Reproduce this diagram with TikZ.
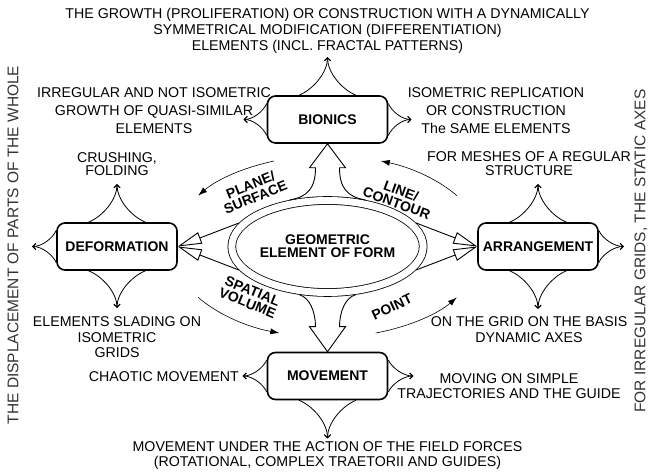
\documentclass[tikz,border=0pt]{standalone}
\usepackage{fontspec}
\setmainfont{Liberation Sans}
\usetikzlibrary{arrows.meta,shapes.geometric,calc}
\newcommand{\sprout}[4]{%
  \begin{scope}[shift={(#1)},rotate=#2]
    \draw[tentacle] (-#3,0) .. controls +(0.5*#3,0.15*#4) and +(0,-0.4*#4) .. (0,#4);
    \draw[tentacle] (#3,0) .. controls +(-0.5*#3,0.15*#4) and +(0,-0.4*#4) .. (0,#4);
  \end{scope}}

\begin{document}
\begin{tikzpicture}[x=1pt,y=1pt,
  box/.style={draw,line width=1.6pt,rounded corners=8pt,minimum width=120pt,minimum height=47pt,inner sep=0pt,font=\bfseries\fontsize{14}{16}\selectfont},
  txt/.style={align=center,inner sep=0pt,font=\fontsize{14.2}{15}\selectfont},
  lbl/.style={align=center,inner sep=0pt,font=\bfseries\fontsize{14}{13}\selectfont},
  side/.style={inner sep=0pt,rotate=90,text=black!80,font=\fontsize{15.5}{16}\selectfont},
  hollow/.style={line width=0.9pt,line join=miter},
  feed/.style={hollow,-{Triangle[open,length=24pt,width=12pt]}},
  turn/.style={line width=0.6pt,-{Latex[length=9pt,width=6pt]}},
  tentacle/.style={line width=0.8pt,-{Straight Barb[length=3pt,width=6pt]}}]
  \useasboundingbox (0,0) rectangle (651,474);

  % the four blocks and the centre
  \node[box] (bio) at (327.5,354.5) {BIONICS};
  \node[box] (def) at (117,227.5) {DEFORMATION};
  \node[box] (arr) at (538,227.5) {ARRANGEMENT};
  \node[box] (mov) at (327.5,98) {MOVEMENT};
  \node[ellipse,draw,double,double distance=7pt,line width=0.8pt,minimum width=191pt,minimum height=92pt,outer sep=4.3pt,lbl] (geo) at (327.5,227.5) {GEOMETRIC\\ELEMENT OF FORM};

  % texts
  \node[txt,font=\fontsize{14.2}{16}\selectfont] (title) at (327.5,443) {THE GROWTH (PROLIFERATION) OR CONSTRUCTION WITH A DYNAMICALLY\\SYMMETRICAL MODIFICATION (DIFFERENTIATION)\\ELEMENTS (INCL. FRACTAL PATTERNS)};
  \node[txt,font=\fontsize{14.2}{18}\selectfont] (irr) at (154,363) {IRREGULAR AND NOT ISOMETRIC\\GROWTH OF QUASI-SIMILAR\\ELEMENTS};
  \node[txt,font=\fontsize{14.2}{18}\selectfont] (iso) at (496,363) {ISOMETRIC REPLICATION\\OR CONSTRUCTION\\The SAME ELEMENTS};
  \node[txt,font=\fontsize{14.2}{13}\selectfont] (crush) at (117,309.5) {CRUSHING,\\FOLDING};
  \node[txt,font=\fontsize{14.2}{14}\selectfont] (mesh) at (529,310) {FOR MESHES OF A REGULAR\\STRUCTURE};
  \node[txt,font=\fontsize{14.2}{15.5}\selectfont] (slide) at (117,136.5) {ELEMENTS SLADING ON\\ISOMETRIC\\GRIDS};
  \node[txt,font=\fontsize{14.2}{16}\selectfont] (grid) at (529,144) {ON THE GRID ON THE BASIS\\DYNAMIC AXES};
  \node[txt,anchor=east] (chaos) at (239,97) {CHAOTIC MOVEMENT};
  \node[txt] (simple) at (509,88) {MOVING ON SIMPLE\\TRAJECTORIES AND THE GUIDE};
  \node[txt] (field) at (327.5,18.5) {MOVEMENT UNDER THE ACTION OF THE FIELD FORCES\\(ROTATIONAL, COMPLEX TRAETORII AND GUIDES)};
  \node[side] (whole) at (13,229) {THE DISPLACEMENT OF PARTS OF THE WHOLE};
  \node[side] (axes) at (641,223) {FOR IRREGULAR GRIDS, THE STATIC AXES};

  % labels round the ellipse
  \node[lbl,rotate=22] (plane) at (253,283) {PLANE/\\SURFACE};
  \node[lbl,rotate=-20] (cont) at (399,277) {LINE/\\CONTOUR};
  \node[lbl,rotate=-22] (spat) at (250,177) {SPATIAL\\VOLUME};
  \node[lbl,rotate=25] (point) at (392,167) {POINT};

  % outgoing arrows of the blocks
  \sprout{bio.north}{0}{28.5}{38}
  \sprout{bio.west}{90}{16}{23}
  \sprout{bio.east}{-90}{16}{23}
  \sprout{def.north}{0}{28.5}{38}
  \sprout{def.south}{180}{28.5}{37}
  \sprout{def.west}{90}{16}{24}
  \sprout{arr.north}{0}{28.5}{38}
  \sprout{arr.south}{180}{28.5}{38}
  \sprout{arr.east}{-90}{16}{25}
  \sprout{mov.west}{90}{16}{24}
  \sprout{mov.east}{-90}{16}{25}
  \sprout{mov.south}{180}{28.5}{38}

  % hollow arrows from the centre
  \draw[hollow] (geo.129) .. controls +(18,3) and +(0,-20) .. ($(bio.south)+(-12,-24)$) -- ++(-6,0) -- (bio.south) -- ++(18,-24) -- ++(-6,0) .. controls +(0,-20) and +(-18,3) .. (geo.51);
  \draw[hollow] (geo.240) .. controls +(10,-3) and +(0,15) .. ($(mov.north)+(-12,25)$) -- ++(-6,0) -- (mov.north) -- ++(18,25) -- ++(-6,0) .. controls +(0,15) and +(-10,-3) .. (geo.300);
  \draw[feed] (geo.165) -- (def.east);
  \draw[feed] (geo.195) -- (def.east);
  \draw[feed] (geo.15) -- (arr.west);
  \draw[feed] (geo.345) -- (arr.west);

  % turning arrows
  \draw[turn] ($(geo.center)+(110:156 and 91)$) arc[start angle=110,end angle=146,x radius=156,y radius=91];
  \draw[turn] ($(geo.center)+(34:156 and 91)$) arc[start angle=34,end angle=70,x radius=156,y radius=91];
  \draw[turn] ($(geo.center)+(214:156 and 91)$) arc[start angle=214,end angle=252,x radius=156,y radius=91];
  \draw[turn] ($(geo.center)+(288:156 and 91)$) arc[start angle=288,end angle=326,x radius=156,y radius=91];
\end{tikzpicture}
\end{document}
